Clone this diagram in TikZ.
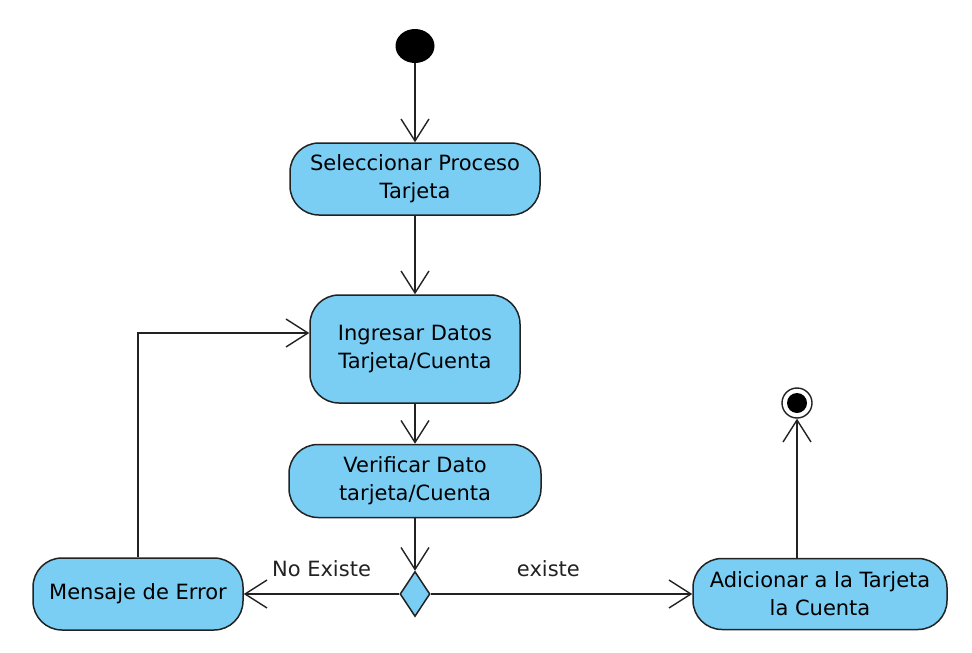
\documentclass[tikz,border=0pt]{standalone}
\usepackage{fontspec}
\setmainfont{DejaVu Sans}
\usetikzlibrary{arrows.meta,positioning,shapes.geometric}
\definecolor{actFill}{HTML}{7ACEF4}
\definecolor{actLine}{HTML}{222222}

\begin{document}
\begin{tikzpicture}[x=1pt,y=-1pt,font=\fontsize{21}{28}\selectfont,
    action/.style={draw=actLine,fill=actFill,line width=1.5pt,rounded corners=29pt,
                   minimum height=72pt,align=center,inner sep=4pt},
    decide/.style={diamond,draw=actLine,fill=actFill,line width=1.5pt,aspect=0.67,
                   minimum width=30pt,minimum height=45pt,inner sep=0pt},
    arr/.style={-{Straight Barb[length=22pt,width=28pt]},actLine,line width=1.4pt},
    lbl/.style={inner sep=2pt}]
  \useasboundingbox (0,0) rectangle (972,653);
  % start and end
  \node[ellipse,fill=black,minimum width=39pt,minimum height=34pt,inner sep=0pt] (ini) at (415,46) {};
  \node[circle,draw=actLine,fill=white,line width=1.4pt,minimum size=30pt,inner sep=0pt] (fin) at (797,403) {};
  \fill (fin.center) circle (10pt);
  % actions
  \node[action,minimum width=250pt] (sel) at (415,179) {Seleccionar Proceso\\Tarjeta};
  \node[action,minimum width=210pt,minimum height=108pt] (ing) at (415,349) {Ingresar Datos\\Tarjeta/Cuenta};
  \node[action,minimum width=252pt,minimum height=73pt] (ver) at (415,481) {Verificar Dato\\tarjeta/Cuenta};
  \node[decide] (dec) at (415,594) {};
  \node[action,minimum width=210pt] (err) at (138,594) {Mensaje de Error};
  \node[action,minimum width=254pt,minimum height=71pt] (add) at (820,594) {Adicionar a la Tarjeta\\la Cuenta};
  % flows
  \draw[arr] (ini) -- (sel);
  \draw[arr] (sel) -- (ing);
  \draw[arr] (ing) -- (ver);
  \draw[arr] (ver) -- (dec);
  \draw[arr] (dec) -- node[lbl,above=15pt] {No Existe} (err);
  \draw[arr] (dec) -- node[lbl,above=15pt,pos=0.45] {existe} (add);
  \draw[arr] (err.north) |- ([yshift=16pt]ing.west);
  \draw[arr] (fin |- add.north) -- (fin);
\end{tikzpicture}
\end{document}
